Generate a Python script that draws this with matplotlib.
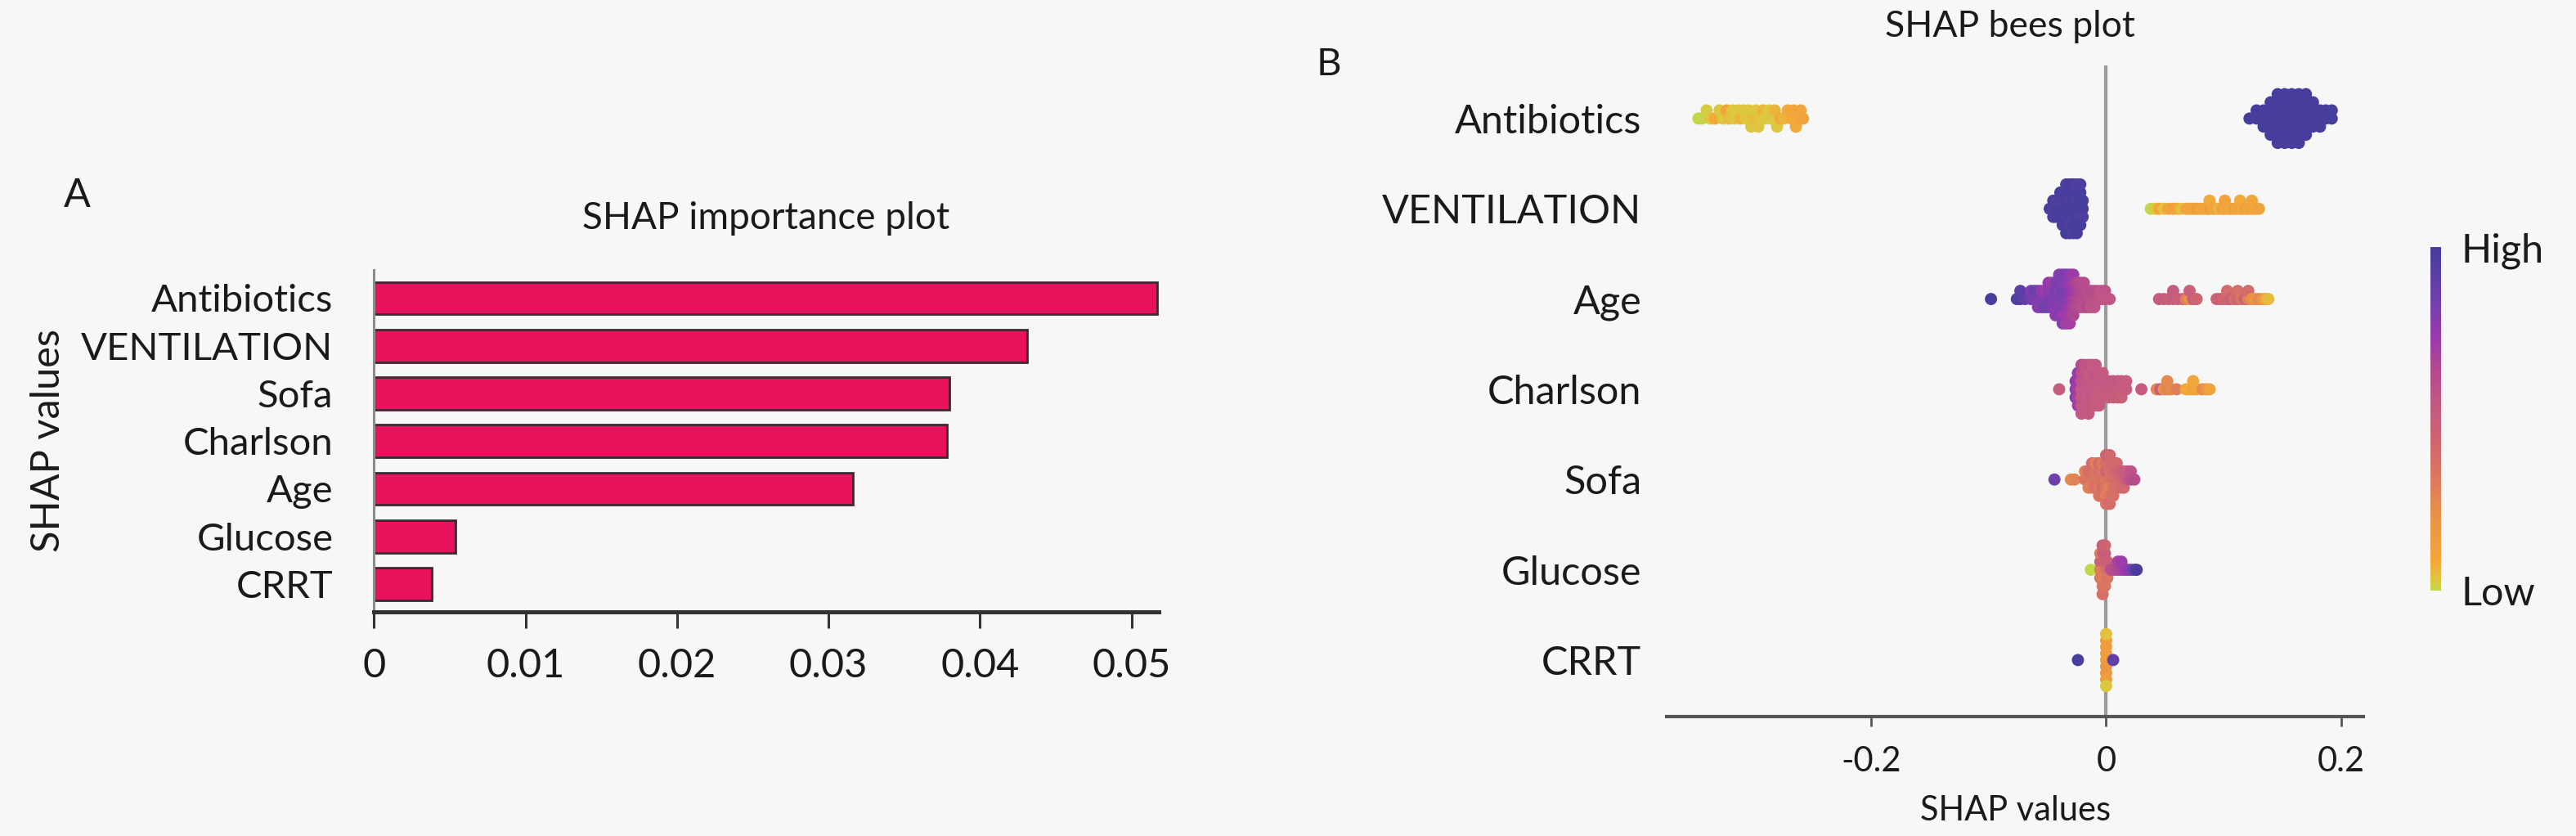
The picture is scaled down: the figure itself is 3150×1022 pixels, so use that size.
import numpy as np
import matplotlib
matplotlib.use("Agg")
import matplotlib.pyplot as plt
from matplotlib.colors import LinearSegmentedColormap, Normalize
from matplotlib.cm import ScalarMappable

plt.rcParams['font.family'] = ['Lato', 'DejaVu Sans']

# ---------------- Panel A data ----------------
imp_features = ['Antibiotics', 'VENTILATION', 'Sofa', 'Charlson', 'Age', 'Glucose', 'CRRT']
imp_values = [0.0517, 0.0431, 0.0380, 0.0378, 0.0316, 0.0054, 0.0038]
imp_ticks = [0, 0.01, 0.02, 0.03, 0.04, 0.05]
imp_ticklabels = ['0', '0.01', '0.02', '0.03', '0.04', '0.05']

# ---------------- Panel B data (SHAP value, normalised feature value) ----------------
bee_features = ['Antibiotics', 'VENTILATION', 'Age', 'Charlson', 'Sofa', 'Glucose', 'CRRT']
bee_ticks = [-0.2, 0, 0.2]
bee_ticklabels = ['-0.2', '0', '0.2']

antibiotics_points = [
    (-0.347, 0.00), (-0.344, 0.00), (-0.340, 0.02), (-0.337, 0.03), (-0.333, 0.08),
    (-0.329, 0.03), (-0.326, 0.03), (-0.323, 0.10), (-0.321, 0.05), (-0.318, 0.03),
    (-0.316, 0.03), (-0.313, 0.03), (-0.311, 0.06), (-0.309, 0.03), (-0.306, 0.03),
    (-0.304, 0.03), (-0.302, 0.03), (-0.300, 0.05), (-0.298, 0.03), (-0.296, 0.03),
    (-0.294, 0.03), (-0.292, 0.06), (-0.290, 0.03), (-0.287, 0.03), (-0.285, 0.03),
    (-0.282, 0.06), (-0.280, 0.03), (-0.277, 0.08), (-0.274, 0.06), (-0.271, 0.08),
    (-0.268, 0.08), (-0.266, 0.10), (-0.264, 0.08), (-0.262, 0.10), (-0.260, 0.10),
    (-0.258, 0.12),
    (0.122, 1.0), (0.128, 1.0), (0.128, 1.0), (0.134, 1.0), (0.134, 1.0), (0.134, 1.0),
    (0.140, 1.0), (0.140, 1.0), (0.140, 1.0), (0.140, 1.0), (0.140, 1.0),
    (0.146, 1.0), (0.146, 1.0), (0.146, 1.0), (0.146, 1.0), (0.146, 1.0), (0.146, 1.0), (0.146, 1.0),
    (0.152, 1.0), (0.152, 1.0), (0.152, 1.0), (0.152, 1.0), (0.152, 1.0), (0.152, 1.0), (0.152, 1.0),
    (0.158, 1.0), (0.158, 1.0), (0.158, 1.0), (0.158, 1.0), (0.158, 1.0), (0.158, 1.0), (0.158, 1.0),
    (0.164, 1.0), (0.164, 1.0), (0.164, 1.0), (0.164, 1.0), (0.164, 1.0), (0.164, 1.0), (0.164, 1.0),
    (0.170, 1.0), (0.170, 1.0), (0.170, 1.0), (0.170, 1.0), (0.170, 1.0), (0.170, 1.0),
    (0.176, 1.0), (0.176, 1.0), (0.176, 1.0), (0.176, 1.0),
    (0.182, 1.0), (0.182, 1.0), (0.182, 1.0), (0.187, 1.0), (0.187, 1.0),
    (0.192, 1.0), (0.192, 1.0),
]

ventilation_points = [
    (-0.048, 1.00),
    (-0.045, 0.97), (-0.045, 1.00), (-0.045, 0.97),
    (-0.042, 1.00), (-0.042, 0.97), (-0.042, 1.00),
    (-0.039, 1.00), (-0.039, 0.97), (-0.039, 1.00), (-0.039, 1.00),
    (-0.037, 1.00), (-0.037, 0.97), (-0.037, 1.00), (-0.037, 1.00), (-0.037, 0.97),
    (-0.034, 1.00), (-0.034, 1.00), (-0.034, 0.97), (-0.034, 1.00), (-0.034, 1.00), (-0.034, 0.97), (-0.034, 1.00),
    (-0.031, 1.00), (-0.031, 0.97), (-0.031, 1.00), (-0.031, 1.00), (-0.031, 0.97), (-0.031, 1.00), (-0.031, 1.00),
    (-0.028, 1.00), (-0.028, 1.00), (-0.028, 0.97), (-0.028, 1.00), (-0.028, 1.00), (-0.028, 1.00), (-0.028, 0.97),
    (-0.025, 1.00), (-0.025, 0.97), (-0.025, 1.00), (-0.025, 1.00), (-0.025, 1.00), (-0.025, 0.97), (-0.025, 1.00),
    (-0.022, 1.00), (-0.022, 1.00), (-0.022, 0.97), (-0.022, 1.00), (-0.022, 1.00), (-0.022, 0.97),
    (-0.020, 1.00), (-0.020, 1.00), (-0.020, 0.97),
    (0.038, 0.00), (0.042, 0.03), (0.045, 0.10), (0.049, 0.04), (0.053, 0.10), (0.057, 0.12),
    (0.061, 0.10), (0.064, 0.04), (0.068, 0.10), (0.071, 0.12), (0.074, 0.10), (0.077, 0.15),
    (0.080, 0.10), (0.083, 0.12), (0.086, 0.10), (0.088, 0.15), (0.088, 0.08), (0.091, 0.10),
    (0.094, 0.12), (0.096, 0.06), (0.099, 0.15), (0.101, 0.10), (0.101, 0.12), (0.104, 0.12),
    (0.106, 0.10), (0.109, 0.15), (0.111, 0.10), (0.114, 0.12), (0.114, 0.08), (0.116, 0.10),
    (0.119, 0.15), (0.121, 0.10), (0.124, 0.12), (0.124, 0.10), (0.127, 0.10), (0.130, 0.12),
]

age_points = [
    (-0.098, 1.00),
    (-0.076, 0.95), (-0.073, 0.95), (-0.073, 0.92), (-0.069, 0.90),
    (-0.064, 0.85), (-0.064, 0.80), (-0.061, 0.82), (-0.061, 0.85),
    (-0.058, 0.80), (-0.058, 0.85), (-0.058, 0.78),
    (-0.055, 0.82), (-0.055, 0.75), (-0.055, 0.80),
    (-0.052, 0.80), (-0.052, 0.72), (-0.052, 0.85),
    (-0.049, 0.80), (-0.049, 0.78), (-0.049, 0.85), (-0.049, 0.75),
    (-0.046, 0.82), (-0.046, 0.78), (-0.046, 0.80), (-0.046, 0.72),
    (-0.043, 0.80), (-0.043, 0.82), (-0.043, 0.78), (-0.043, 0.80), (-0.043, 0.75),
    (-0.040, 0.82), (-0.040, 0.80), (-0.040, 0.78), (-0.040, 0.82), (-0.040, 0.80), (-0.040, 0.78),
    (-0.037, 0.80), (-0.037, 0.82), (-0.037, 0.80), (-0.037, 0.80), (-0.037, 0.74), (-0.037, 0.82), (-0.037, 0.80),
    (-0.034, 0.80), (-0.034, 0.82), (-0.034, 0.78), (-0.034, 0.80), (-0.034, 0.72), (-0.034, 0.82), (-0.034, 0.70),
    (-0.031, 0.75), (-0.031, 0.78), (-0.031, 0.72), (-0.031, 0.74), (-0.031, 0.70), (-0.031, 0.76), (-0.031, 0.70),
    (-0.028, 0.70), (-0.028, 0.72), (-0.028, 0.68), (-0.028, 0.70), (-0.028, 0.66), (-0.028, 0.72),
    (-0.025, 0.66), (-0.025, 0.68), (-0.025, 0.64), (-0.025, 0.66),
    (-0.022, 0.64), (-0.022, 0.66), (-0.022, 0.62), (-0.022, 0.64),
    (-0.019, 0.62), (-0.019, 0.64), (-0.019, 0.60), (-0.019, 0.62),
    (-0.016, 0.62), (-0.016, 0.60), (-0.016, 0.64),
    (-0.013, 0.60), (-0.013, 0.62), (-0.013, 0.58),
    (-0.010, 0.60), (-0.010, 0.62), (-0.010, 0.58),
    (-0.007, 0.58), (-0.007, 0.60),
    (-0.004, 0.58), (-0.004, 0.56),
    (-0.001, 0.56), (-0.001, 0.58),
    (0.003, 0.56),
    (0.045, 0.50), (0.049, 0.52), (0.053, 0.48), (0.057, 0.50), (0.057, 0.52), (0.061, 0.48),
    (0.065, 0.50), (0.068, 0.30), (0.071, 0.22), (0.071, 0.48), (0.074, 0.50), (0.077, 0.45),
    (0.094, 0.45), (0.097, 0.48), (0.100, 0.42), (0.103, 0.45), (0.103, 0.40), (0.106, 0.48),
    (0.109, 0.40), (0.112, 0.45), (0.112, 0.38), (0.115, 0.35), (0.118, 0.45), (0.121, 0.30),
    (0.121, 0.40), (0.124, 0.22), (0.127, 0.20), (0.130, 0.25), (0.133, 0.20), (0.136, 0.10),
    (0.138, 0.05),
]

charlson_points = [
    (-0.040, 0.50),
    (-0.026, 0.78), (-0.026, 0.75), (-0.026, 0.80),
    (-0.024, 0.70), (-0.024, 0.72), (-0.024, 0.68), (-0.024, 0.75), (-0.024, 0.70),
    (-0.021, 0.55), (-0.021, 0.58), (-0.021, 0.55), (-0.021, 0.60), (-0.021, 0.55), (-0.021, 0.62), (-0.021, 0.55),
    (-0.018, 0.55), (-0.018, 0.56), (-0.018, 0.54), (-0.018, 0.58), (-0.018, 0.55), (-0.018, 0.56),
    (-0.015, 0.54), (-0.015, 0.56), (-0.015, 0.55), (-0.015, 0.52), (-0.015, 0.55), (-0.015, 0.58), (-0.015, 0.54),
    (-0.012, 0.55), (-0.012, 0.52), (-0.012, 0.56), (-0.012, 0.54), (-0.012, 0.55), (-0.012, 0.52),
    (-0.009, 0.54), (-0.009, 0.55), (-0.009, 0.52), (-0.009, 0.56), (-0.009, 0.50), (-0.009, 0.55),
    (-0.006, 0.52), (-0.006, 0.55), (-0.006, 0.50), (-0.006, 0.54), (-0.006, 0.52),
    (-0.003, 0.52), (-0.003, 0.55), (-0.003, 0.50), (-0.003, 0.52),
    (0.002, 0.52), (0.002, 0.55), (0.002, 0.50),
    (0.006, 0.52), (0.006, 0.54), (0.006, 0.50),
    (0.010, 0.52), (0.010, 0.55), (0.010, 0.50),
    (0.013, 0.50), (0.013, 0.52), (0.013, 0.48),
    (0.017, 0.52), (0.017, 0.50),
    (0.030, 0.52),
    (0.043, 0.25), (0.046, 0.50), (0.049, 0.22), (0.052, 0.28), (0.052, 0.25), (0.055, 0.25),
    (0.060, 0.30), (0.068, 0.10), (0.071, 0.08), (0.074, 0.12), (0.074, 0.10), (0.077, 0.10),
    (0.082, 0.25), (0.085, 0.20), (0.088, 0.12),
]

sofa_points = [
    (-0.044, 0.85), (-0.030, 0.25), (-0.027, 0.28),
    (-0.018, 0.35), (-0.018, 0.30),
    (-0.015, 0.35), (-0.015, 0.38), (-0.015, 0.30),
    (-0.012, 0.35), (-0.012, 0.38), (-0.012, 0.32), (-0.012, 0.40),
    (-0.009, 0.36), (-0.009, 0.34), (-0.009, 0.38), (-0.009, 0.30),
    (-0.006, 0.35), (-0.006, 0.38), (-0.006, 0.33), (-0.006, 0.40), (-0.006, 0.35),
    (-0.003, 0.36), (-0.003, 0.34), (-0.003, 0.40), (-0.003, 0.32), (-0.003, 0.36),
    (0.000, 0.35), (0.000, 0.45), (0.000, 0.33), (0.000, 0.38), (0.000, 0.30), (0.000, 0.45), (0.000, 0.36),
    (0.003, 0.36), (0.003, 0.38), (0.003, 0.28), (0.003, 0.40), (0.003, 0.35), (0.003, 0.42), (0.003, 0.40),
    (0.006, 0.38), (0.006, 0.40), (0.006, 0.36), (0.006, 0.42), (0.006, 0.38),
    (0.009, 0.40), (0.009, 0.45), (0.009, 0.38), (0.009, 0.42),
    (0.012, 0.42), (0.012, 0.45), (0.012, 0.40),
    (0.015, 0.45), (0.015, 0.50), (0.015, 0.42),
    (0.018, 0.55), (0.018, 0.50),
    (0.021, 0.60), (0.021, 0.58),
    (0.024, 0.62),
]

glucose_points = [
    (-0.013, 0.00),
    (-0.005, 0.30), (-0.005, 0.45), (-0.005, 0.35), (-0.005, 0.30),
    (-0.003, 0.30), (-0.003, 0.48), (-0.003, 0.32), (-0.003, 0.45), (-0.003, 0.35), (-0.003, 0.50), (-0.003, 0.38),
    (-0.001, 0.35), (-0.001, 0.45), (-0.001, 0.30), (-0.001, 0.50), (-0.001, 0.35), (-0.001, 0.45),
    (0.001, 0.40), (0.001, 0.48), (0.001, 0.35),
    (0.004, 0.60), (0.007, 0.62), (0.010, 0.65), (0.010, 0.68), (0.013, 0.68), (0.013, 0.72),
    (0.016, 0.72), (0.018, 0.75), (0.021, 0.80), (0.024, 0.88), (0.026, 1.00),
]

crrt_points = [
    (-0.024, 1.00),
    (0.000, 0.15), (0.000, 0.15), (0.000, 0.18), (0.000, 0.15), (0.000, 0.18),
    (0.000, 0.15), (0.000, 0.15), (0.000, 0.04), (0.000, 0.03),
    (0.006, 0.90),
]

bee_points = {
    'Antibiotics': antibiotics_points,
    'VENTILATION': ventilation_points,
    'Age': age_points,
    'Charlson': charlson_points,
    'Sofa': sofa_points,
    'Glucose': glucose_points,
    'CRRT': crrt_points,
}

# ---------------- styling ----------------
BG = '#f7f7f7'
TXT = '#1a1a1a'
BAR = '#E8115B'
shap_cmap = LinearSegmentedColormap.from_list('shapish', [
    (0.00, '#c4d64a'), (0.03, '#dfc63e'), (0.08, '#f3a838'), (0.20, '#eb9545'),
    (0.32, '#dd7a5c'), (0.45, '#cd6373'), (0.55, '#c25884'), (0.65, '#b0488f'),
    (0.73, '#9c3aae'), (0.83, '#7640ad'), (0.92, '#5a3fa6'), (1.00, '#463d9c')])


def swarm_offsets(xs, row_height=0.4, nbins=100):
    xs = np.asarray(xs, float)
    span = xs.max() - xs.min()
    quant = np.round(nbins * (xs - xs.min()) / (span + 1e-8))
    order = np.argsort(quant, kind='stable')
    ys = np.zeros(len(xs))
    layer, last = 0, None
    for i in order:
        if quant[i] != last:
            layer = 0
        ys[i] = np.ceil(layer / 2) * ((layer % 2) * 2 - 1)
        layer += 1
        last = quant[i]
    ys *= 0.9 * (row_height / np.max(ys + 1))
    return ys


fig = plt.figure(figsize=(31.5, 10.22), dpi=100, facecolor=BG)

# ---------------- Panel A ----------------
axA = fig.add_axes([0.1452, 0.2681, 0.3046, 0.409], facecolor=BG)
ypos = np.arange(len(imp_features))[::-1]
axA.barh(ypos, imp_values, height=0.68, color=BAR, edgecolor='#3b2a33', linewidth=2.0, zorder=2)
axA.set_yticks(ypos)
axA.set_yticklabels(imp_features)
axA.set_xticks(imp_ticks)
axA.set_xticklabels(imp_ticklabels)
axA.set_xlim(0, 0.0518)
axA.set_ylim(-0.584, 6.592)
for s in ('top', 'right'):
    axA.spines[s].set_visible(False)
axA.spines['left'].set_color('#8c8c8c')
axA.spines['left'].set_linewidth(2.2)
axA.spines['bottom'].set_color('#333333')
axA.spines['bottom'].set_linewidth(3.6)
axA.tick_params(axis='y', length=0, pad=36, labelsize=34, labelcolor=TXT)
axA.tick_params(axis='x', length=14.4, width=2.2, color='#333333', pad=17, labelsize=35, labelcolor=TXT)
axA.set_ylabel('SHAP values', fontsize=35, color=TXT)
axA.yaxis.label.set_va('center')
axA.yaxis.set_label_coords(-0.415, 0.5)
fig.text(0.2975, 0.726, 'SHAP importance plot', ha='center', va='baseline', fontsize=33, color=TXT)
fig.text(0.030, 0.7524, 'A', ha='center', va='baseline', fontsize=35, color=TXT)

# ---------------- Panel B ----------------
axB = fig.add_axes([0.6470, 0.1429, 0.2705, 0.7789], facecolor=BG)
nfeat = len(bee_features)
for k, feat in enumerate(bee_features):
    pos = nfeat - 1 - k
    xs = [p[0] for p in bee_points[feat]]
    cs = [p[1] for p in bee_points[feat]]
    offs = swarm_offsets(xs)
    axB.scatter(xs, pos + offs, c=cs, cmap=shap_cmap, vmin=0, vmax=1, s=115,
                linewidths=0, zorder=3)
axB.axvline(0, color='#9a9a9a', linewidth=3.0, zorder=1)
axB.set_yticks(np.arange(nfeat)[::-1])
axB.set_yticklabels(bee_features)
axB.set_xticks(bee_ticks)
axB.set_xticklabels(bee_ticklabels)
axB.set_xlim(-0.374, 0.219)
axB.set_ylim(-0.626, 6.589)
for s in ('top', 'right', 'left'):
    axB.spines[s].set_visible(False)
axB.spines['bottom'].set_color('#555555')
axB.spines['bottom'].set_linewidth(3.0)
axB.tick_params(axis='y', length=0, pad=22, labelsize=35, labelcolor=TXT)
axB.tick_params(axis='x', length=8.6, width=2.0, color='#555555', pad=17, labelsize=30, labelcolor=TXT)
axB.set_xlabel('SHAP values', fontsize=30, color=TXT)
axB.xaxis.label.set_va('baseline')
axB.xaxis.set_label_coords(0.5, (0.0186 - 0.1429) / 0.7789)
fig.text(0.7803, 0.956, 'SHAP bees plot', ha='center', va='baseline', fontsize=32, color=TXT)
fig.text(0.516, 0.910, 'B', ha='center', va='baseline', fontsize=34, color=TXT)

# colour bar
cax = fig.add_axes([2972 / 3150, 1 - 722 / 1022, 13 / 3150, 420 / 1022])
cb = fig.colorbar(ScalarMappable(norm=Normalize(0, 1), cmap=shap_cmap), cax=cax, ticks=[0, 1])
cb.set_ticklabels(['Low', 'High'])
cb.outline.set_visible(False)
cax.tick_params(length=0, pad=18, labelsize=35, labelcolor=TXT)

fig.savefig('out.png', dpi=100, facecolor=BG)
